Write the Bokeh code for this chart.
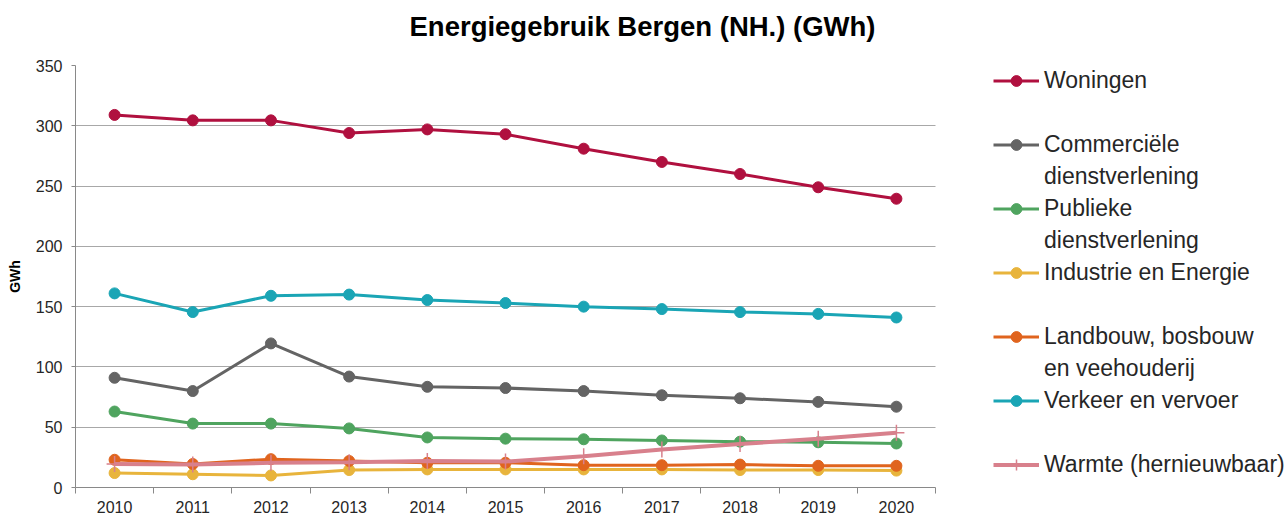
from bokeh.plotting import figure
from bokeh.models import Range1d, FixedTicker, Legend, LegendItem, Title
from bokeh.embed import file_html
from bokeh.resources import INLINE

years = ["2010", "2011", "2012", "2013", "2014", "2015", "2016", "2017", "2018", "2019", "2020"]
woningen = [309, 304.5, 304.5, 294, 297, 293, 281, 270, 260, 249, 239.5]
commercieel = [91, 80, 119.5, 92, 83.5, 82.5, 80, 76.5, 74, 71, 67]
publieke = [63, 53, 53, 49, 41.5, 40.5, 40, 39, 38, 37.5, 36.5]
industrie = [12, 11, 10, 14.5, 15, 15, 15, 15, 14.5, 14.5, 14]
landbouw = [23, 19.5, 23.5, 22, 20.5, 20.5, 18.5, 18.5, 19, 18, 18]
verkeer = [161, 145.5, 159, 160, 155.5, 153, 150, 148, 145.5, 144, 141]
warmte = [19.5, 19, 20.5, 21, 22, 21.5, 26, 31.5, 36, 40.5, 45.5]
y_ticks = [0, 50, 100, 150, 200, 250, 300, 350]

# (first label line, second label line, values, colour, marker, blank rows after)
series = [
    ("Woningen", None, woningen, "#B0103F", "circle", 1),
    ("Commerciële", "dienstverlening", commercieel, "#646464", "circle", 0),
    ("Publieke", "dienstverlening", publieke, "#4FA45F", "circle", 0),
    ("Industrie en Energie", None, industrie, "#E8B43C", "circle", 1),
    ("Landbouw, bosbouw", "en veehouderij", landbouw, "#E0641E", "circle", 0),
    ("Verkeer en vervoer", None, verkeer, "#1AA5B5", "circle", 1),
    ("Warmte (hernieuwbaar)", None, warmte, "#D8808C", "cross", 0),
]

FONT = "Liberation Sans"
W, H = 1286, 515
FL, FR, FT, FB = 75, 935, 65, 489   # plot-area edges of the category axis
n = len(years)
x_start = -0.5
x_end_axis = n - 0.5
# the frame runs to the right edge so that the legend (drawn in the frame) is not clipped
x_end = x_start + n * (W - FL) / (FR - FL)

p = figure(width=W, height=H, output_backend="svg", toolbar_location=None,
           x_range=Range1d(x_start, x_end), y_range=Range1d(0, 350),
           min_border_left=FL, min_border_right=0,
           min_border_top=FT, min_border_bottom=H - FB)
p.outline_line_color = None
p.background_fill_color = "white"
p.border_fill_color = "white"
if p.title is not None:
    p.title.text = ""
    p.title.standoff = 0

# gap between the title and the plot area (first "above" item sits next to the frame)
p.add_layout(Title(text=" ", text_font_size="1px", standoff=19), "above")
p.add_layout(Title(text="Energiegebruik Bergen (NH.) (GWh)", text_font=FONT,
                   text_font_size="27.5px", text_font_style="bold", text_color="#000000",
                   align="left", vertical_align="top", offset=334, standoff=0), "above")

# x axis
xs = list(range(n))
p.xaxis.bounds = (x_start, x_end_axis)
p.xaxis.ticker = FixedTicker(ticks=xs, minor_ticks=[i - 0.5 for i in range(n + 1)])
p.xaxis.major_label_overrides = {i: y for i, y in enumerate(years)}
p.xaxis.major_tick_in = 0
p.xaxis.major_tick_out = 0
p.xaxis.minor_tick_in = 0
p.xaxis.minor_tick_out = 6
p.xaxis.minor_tick_line_color = "#898989"
p.xaxis.axis_line_color = "#898989"
p.xaxis.major_label_standoff = 7
p.xaxis.major_label_text_font = FONT
p.xaxis.major_label_text_font_size = "16px"
p.xaxis.major_label_text_color = "#262626"
p.xgrid.grid_line_color = None

# y axis
p.yaxis.ticker = FixedTicker(ticks=y_ticks)
p.yaxis.minor_tick_line_color = None
p.yaxis.major_tick_in = 0
p.yaxis.major_tick_out = 4
p.yaxis.major_tick_line_color = "#898989"
p.yaxis.axis_line_color = "#898989"
p.yaxis.major_label_standoff = 9
p.yaxis.major_label_text_font = FONT
p.yaxis.major_label_text_font_size = "16px"
p.yaxis.major_label_text_color = "#262626"
p.yaxis.axis_label = "GWh"
p.yaxis.axis_label_text_font = FONT
p.yaxis.axis_label_text_font_size = "14px"
p.yaxis.axis_label_text_font_style = "bold"
p.yaxis.axis_label_text_color = "#000000"
p.yaxis.axis_label_standoff = 10

grid = p.ygrid[0]
if "cross_bounds" in grid.properties():
    grid.grid_line_color = "#A8A8A8"
    grid.grid_line_width = 1
    grid.cross_bounds = (x_start, x_end_axis)
else:
    grid.grid_line_color = None
    p.segment(x0=[x_start] * len(y_ticks), x1=[x_end_axis] * len(y_ticks),
              y0=y_ticks, y1=y_ticks, line_color="#A8A8A8", line_width=1)

blank = p.line([], [], line_alpha=0)  # invisible sample for wrapped / spacer legend rows

items = []
for name, line2, vals, col, marker, gaps in series:
    lw = 4 if marker == "cross" else 3
    r1 = p.line(xs, vals, line_color=col, line_width=lw)
    if marker == "cross":
        r2 = p.scatter(xs, vals, marker="cross", size=16, line_color=col, line_width=1.5)
    else:
        r2 = p.scatter(xs, vals, marker="circle", size=11, fill_color=col, line_color=col)
    items.append(LegendItem(label=name, renderers=[r1, r2]))
    if line2:
        items.append(LegendItem(label=line2, renderers=[blank]))
    for _ in range(gaps):
        items.append(LegendItem(label=" ", renderers=[blank]))

legend = Legend(items=items, location=(993 - FL, 9), orientation="vertical",
                glyph_width=46, glyph_height=27, label_height=27, spacing=5,
                label_standoff=5, padding=0, margin=0,
                border_line_color=None, background_fill_alpha=0,
                label_text_font=FONT, label_text_font_size="23px",
                label_text_color="#262626")
p.add_layout(legend, "center")

open("out.html", "w").write(file_html(p, INLINE))
